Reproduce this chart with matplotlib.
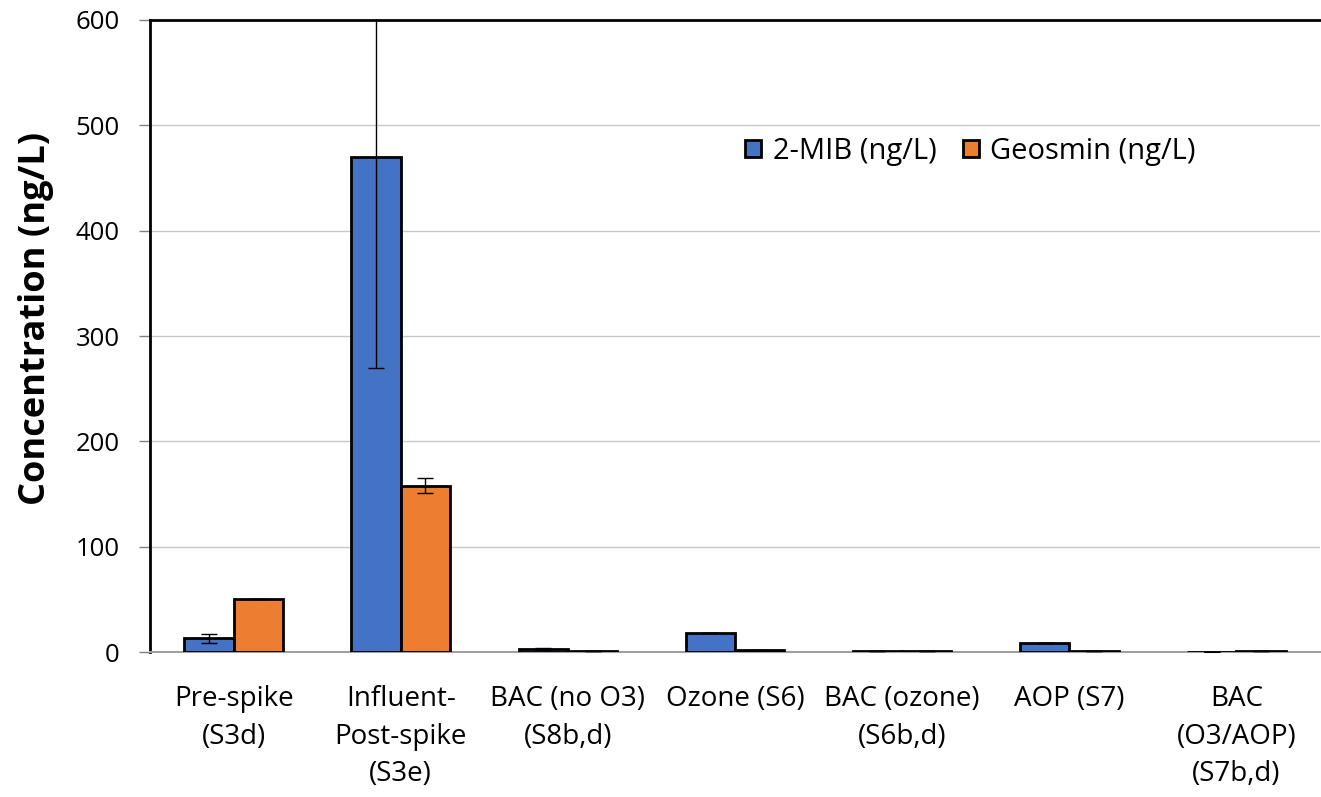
import matplotlib.pyplot as plt
import numpy as np

categories = ["Pre-spike\n(S3d)", "Influent-\nPost-spike\n(S3e)", "BAC (no O3)\n(S8b,d)",
              "Ozone (S6)", "BAC (ozone)\n(S6b,d)", "AOP (S7)", "BAC\n(O3/AOP)\n(S7b,d)"]
mib = [13, 470, 3, 18, 1, 9, 0]
mib_err = [4, 200, 1, 0, 0, 0, 0]
geosmin = [50, 158, 1, 2, 1, 1, 1]
geosmin_err = [0, 7, 0, 0, 0, 0, 0]

plt.rcParams['font.family'] = ['Open Sans', 'DejaVu Sans']

fig = plt.figure(figsize=(13.21, 7.97), dpi=100)
ax = fig.add_axes([150/1321, 1 - 652/797, 1170/1321, 632/797])

x = np.arange(len(categories))
w = 0.295
ax.bar(x - w/2, mib, w, color="#4472C4", edgecolor="black", linewidth=2,
       label="2-MIB (ng/L)", zorder=3)
ax.bar(x + w/2, geosmin, w, color="#ED7D31", edgecolor="black", linewidth=2,
       label="Geosmin (ng/L)", zorder=3)
ax.errorbar(x - w/2, mib, yerr=mib_err, fmt="none", ecolor="black", elinewidth=1,
            capsize=6, capthick=1, zorder=4)
ax.errorbar(x + w/2, geosmin, yerr=geosmin_err, fmt="none", ecolor="black", elinewidth=1,
            capsize=6, capthick=1, zorder=4)

ax.set_xlim(-0.5, len(categories) - 0.5)
ax.set_ylim(0, 600)
ax.set_yticks(range(0, 601, 100))
ax.yaxis.grid(True, color="#c8c8c8", linewidth=1, zorder=0)
ax.set_axisbelow(True)

ax.set_xticks(x)
ax.set_xticklabels(categories, fontsize=20, linespacing=1.45, va="top")
ax.tick_params(axis="x", length=0, pad=24)
ax.tick_params(axis="y", length=8, width=1, color="#808080", labelsize=18.5, pad=14)

ax.spines["right"].set_visible(False)
ax.spines["top"].set_linewidth(2)
ax.spines["left"].set_linewidth(2)
ax.spines["bottom"].set_color("#a0a0a0")
ax.spines["bottom"].set_linewidth(1.5)

ax.set_ylabel("Concentration (ng/L)", fontsize=26, fontweight="bold")
ax.yaxis.set_label_coords(-0.082, 0.527)

ax.legend(loc="center left", bbox_to_anchor=(0.486, 0.792), ncol=2, frameon=False,
          fontsize=21, handlelength=0.55, handleheight=0.55, handletextpad=0.4,
          columnspacing=0.9)

fig.savefig("out.png", dpi=100)
